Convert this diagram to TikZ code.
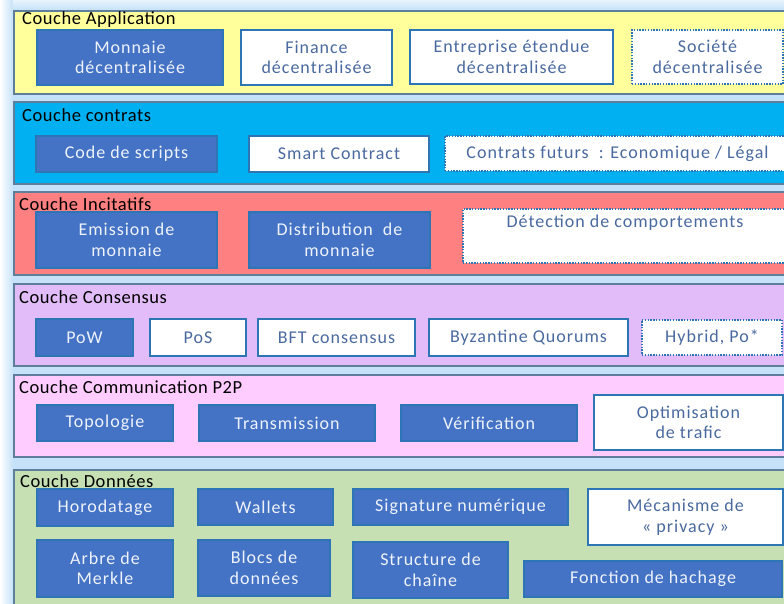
\documentclass[tikz,border=0pt]{standalone}
\usepackage{fontspec}
\setmainfont{Carlito}
\newfontfamily\titlefont[LetterSpace=3]{Carlito}
\newfontfamily\boxfont[LetterSpace=5.5]{Carlito}
\usetikzlibrary{calc}
\definecolor{bgblue}{HTML}{C6E2F8}
\definecolor{layeredge}{HTML}{5E7E9C}
\definecolor{boxblue}{HTML}{4472C4}
\definecolor{boxedge}{HTML}{2E75B6}
\definecolor{inktext}{HTML}{4A6A9F}
\definecolor{lightink}{HTML}{EEF3FB}
\definecolor{appfill}{HTML}{FFFF9C}
\definecolor{ctrfill}{HTML}{00B0F0}
\definecolor{incfill}{HTML}{FF8080}
\definecolor{consfill}{HTML}{E2BCF8}
\definecolor{p2pfill}{HTML}{FFCCFF}
\definecolor{datafill}{HTML}{C6E0B4}
\tikzset{
  layer/.style={draw=layeredge, line width=1.8pt},
  layertitle/.style={anchor=west, inner sep=0pt, text=black,
    font=\titlefont\fontsize{18.5}{21}\selectfont},
  box/.style={inner sep=0pt, align=center, font=\boxfont\fontsize{18}{20.5}\selectfont},
  bluebox/.style={box, fill=boxblue, draw=boxedge, line width=1.6pt, text=lightink},
  whitebox/.style={box, fill=white, draw=boxedge, line width=2pt, text=inktext},
  dotbox/.style={box, fill=white, draw=boxedge, line width=1.6pt,
    dash pattern=on 1.4pt off 1.4pt, text=inktext},
}
% \cell{name}{x1}{y1}{x2}{y2}{style}{text}: a box given by its corners
\newcommand\cell[7]{%
  \node[#6, minimum width={(#4)-(#2)}, minimum height={(#5)-(#3)}]
    (#1) at ({((#2)+(#4))/2},{((#3)+(#5))/2}) {#7};}
\begin{document}
\begin{tikzpicture}[x=1pt, y=-1pt]
\useasboundingbox (0,0) rectangle (784,603);
\clip (0,0) rectangle (784,603);
% soft backdrop
\fill[bgblue] (0,0) rectangle (784,603);
\shade[left color=white, right color=bgblue] (0,0) rectangle (13,603);
\shade[top color=white!60!bgblue, bottom color=bgblue] (13,0) rectangle (784,10);

% layers
\draw[layer, fill=appfill]  (14,11)  rectangle (800,94);
\draw[layer, fill=ctrfill]  (14,102) rectangle (800,184);
\draw[layer, fill=incfill]  (14,192) rectangle (800,275);
\draw[layer, fill=consfill] (14,284) rectangle (800,366);
\draw[layer, fill=p2pfill]  (14,375) rectangle (800,457);
\draw[layer, fill=datafill] (14,470) rectangle (800,620);

\node[layertitle] (t1) at (22,20)  {Couche Application};
\node[layertitle] (t2) at (22,115) {Couche contrats};
\node[layertitle] (t3) at (19,204) {Couche Incitatifs};
\node[layertitle] (t4) at (19,297) {Couche Consensus};
\node[layertitle] (t5) at (19,387) {Couche Communication P2P};
\node[layertitle] (t6) at (20,481) {Couche Données};

% application layer
\cell{a1}{37}{30}{223}{85}{bluebox}{Monnaie\\décentralisée}
\cell{a2}{241}{30}{392}{85}{whitebox}{Finance\\décentralisée}
\cell{a3}{410}{30}{613}{84}{whitebox}{Entreprise étendue\\décentralisée}
\cell{a4}{632}{30}{783}{84}{dotbox}{Société\\décentralisée}

% contracts layer
\cell{c1}{36}{136}{217}{172}{bluebox}{Code de scripts}
\cell{c2}{249}{136}{429}{172}{whitebox}{Smart Contract}
\cell{c3}{445}{136}{790}{171}{dotbox}{Contrats futurs~ : Economique / Légal}

% incentives layer
\cell{i1}{36}{212}{217}{268}{bluebox}{Emission de\\monnaie}
\cell{i2}{249}{212}{430}{268}{bluebox}{Distribution~ de\\monnaie}
\cell{i3}{463}{209}{787}{263}{dotbox}{}
\node[box, text=inktext, anchor=north] (i3t) at ($(i3.north)+(0,7)$) {Détection de comportements};

% consensus layer
\cell{k1}{36}{319}{133}{356}{bluebox}{PoW}
\cell{k2}{150}{319}{246}{356}{whitebox}{PoS}
\cell{k3}{258}{319}{415}{356}{whitebox}{BFT consensus}
\cell{k4}{429}{319}{628}{356}{whitebox}{Byzantine Quorums}
\cell{k5}{642}{320}{782}{355}{dotbox}{Hybrid, Po*}

% peer-to-peer layer
\cell{p1}{37}{405}{173}{441}{bluebox}{Topologie}
\cell{p2}{199}{405}{375}{441}{bluebox}{Transmission}
\cell{p3}{401}{405}{577}{441}{bluebox}{Vérification}
\cell{p4}{594}{395}{783}{450}{whitebox}{Optimisation\\de trafic}

% data layer
\cell{d1}{37}{489}{173}{526}{bluebox}{Horodatage}
\cell{d2}{198}{489}{333}{525}{bluebox}{Wallets}
\cell{d3}{353}{489}{568}{525}{bluebox}{Signature numérique}
\cell{d4}{588}{489}{783}{545}{whitebox}{Mécanisme de\\« privacy »}
\cell{d5}{37}{540}{173}{597}{bluebox}{Arbre de\\Merkle}
\cell{d6}{198}{540}{330}{596}{bluebox}{Blocs de\\données}
\cell{d7}{353}{542}{508}{598}{bluebox}{Structure de\\chaîne}
\cell{d8}{524}{561}{782}{597}{bluebox}{Fonction de hachage}
\end{tikzpicture}
\end{document}
